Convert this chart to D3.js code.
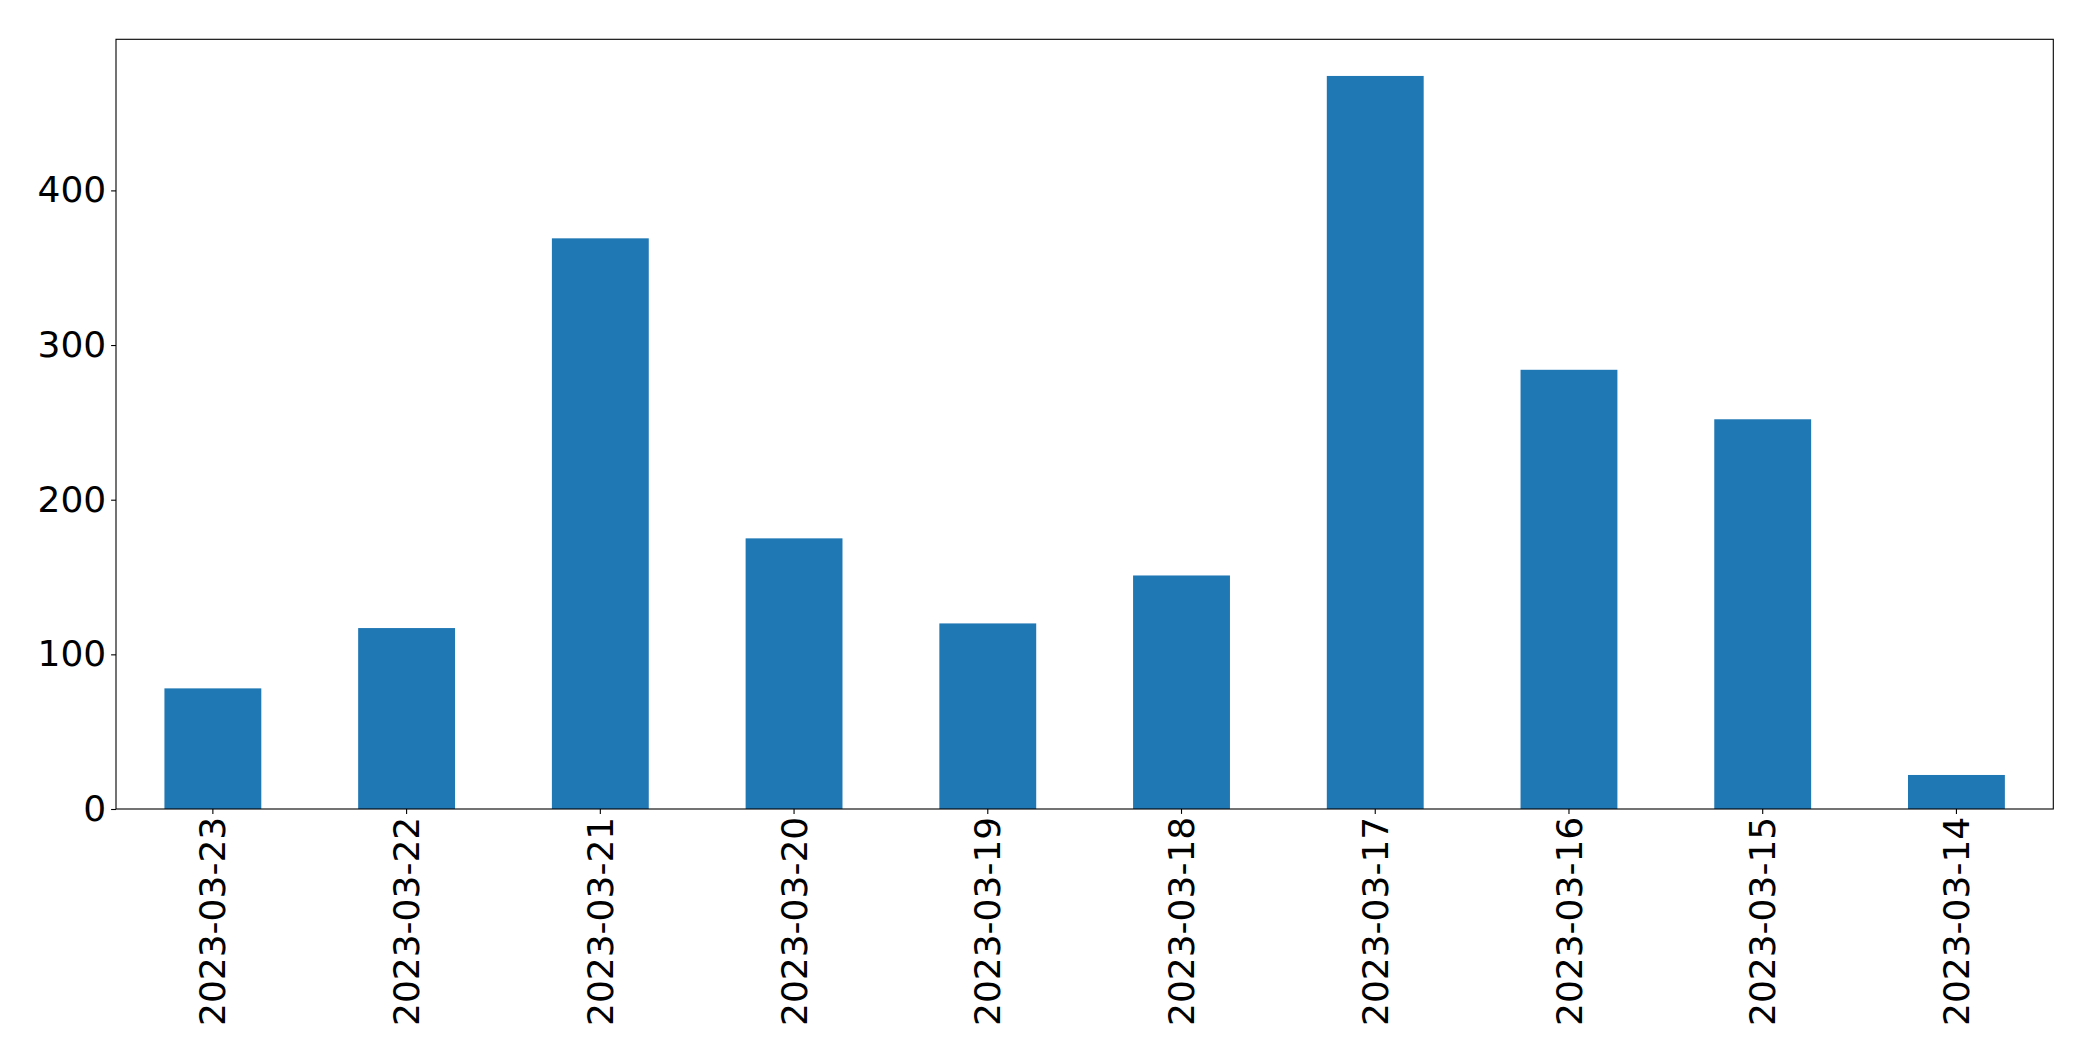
<!DOCTYPE html>
<html>
<head>
<meta charset="utf-8">
<script src="https://cdn.jsdelivr.net/npm/d3@7"></script>
<style>
  html, body { margin: 0; padding: 0; background: #fff; }
  svg { display: block; }
  text { font-family: "DejaVu Sans", sans-serif; fill: #000; }
</style>
</head>
<body>
<script>
const categories = ["2023-03-23","2023-03-22","2023-03-21","2023-03-20","2023-03-19","2023-03-18","2023-03-17","2023-03-16","2023-03-15","2023-03-14"];
const values = [78, 117, 369, 175, 120, 151, 474, 284, 252, 22];
const yTicks = [0, 100, 200, 300, 400];

const W = 2093, H = 1061;
const margin = { left: 116, top: 39.3, right: W - 2053.3, bottom: H - 809 };
const fontSize = 36;
const tickLen = 4.9, tickPad = 4.9;

const svg = d3.select("body").append("svg").attr("width", W).attr("height", H);

const x = d3.scaleBand().domain(categories)
  .range([margin.left, W - margin.right]).paddingInner(0.5).paddingOuter(0.25);
const y = d3.scaleLinear().domain([0, d3.max(values) * 1.05])
  .range([H - margin.bottom, margin.top]);

svg.append("g").selectAll("rect").data(values).join("rect")
  .attr("x", (d, i) => x(categories[i]))
  .attr("width", x.bandwidth())
  .attr("y", d => y(d))
  .attr("height", d => y(0) - y(d))
  .attr("fill", "#1f77b4");

const yAxis = svg.append("g").attr("transform", `translate(${margin.left},0)`)
  .call(d3.axisLeft(y).tickValues(yTicks).tickSize(tickLen).tickPadding(tickPad).tickFormat(d3.format("d")));
yAxis.select(".domain").remove();
yAxis.selectAll("line").attr("stroke", "#000").attr("stroke-width", 1.1);
yAxis.selectAll("text").style("font-size", fontSize + "px").attr("font-family", "DejaVu Sans");

const xAxis = svg.append("g").attr("transform", `translate(0,${H - margin.bottom})`)
  .call(d3.axisBottom(x).tickSize(tickLen).tickPadding(tickPad));
xAxis.select(".domain").remove();
xAxis.selectAll("line").attr("stroke", "#000").attr("stroke-width", 1.1);
xAxis.selectAll("text")
  .style("font-size", fontSize + "px").attr("font-family", "DejaVu Sans")
  .attr("text-anchor", "end")
  .attr("dy", "0.35em")
  .attr("y", 0)
  .attr("transform", `translate(0,${tickLen + tickPad - 2}) rotate(-90)`);

// frame (spines)
svg.append("rect")
  .attr("x", margin.left).attr("y", margin.top)
  .attr("width", W - margin.right - margin.left)
  .attr("height", H - margin.bottom - margin.top)
  .attr("fill", "none").attr("stroke", "#000").attr("stroke-width", 1.1);
</script>
</body>
</html>
